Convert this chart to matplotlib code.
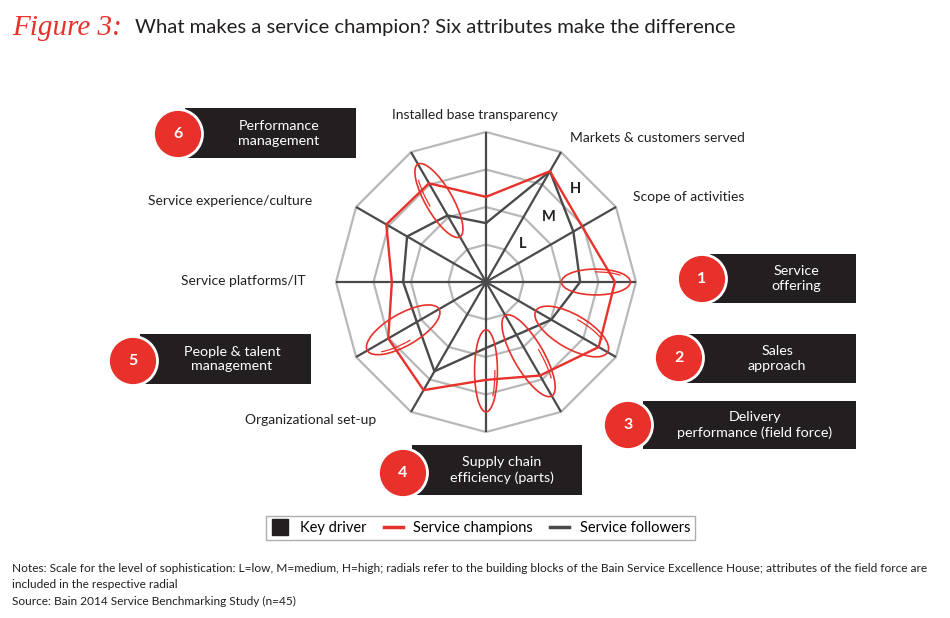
import numpy as np
import matplotlib
matplotlib.use("Agg")
import matplotlib.pyplot as plt
from matplotlib.patches import Ellipse, Arc, Rectangle, Circle
from matplotlib.lines import Line2D

# colours
RED = "#e8312a"
DARK = "#4a4a4c"
RING = "#b8b8b8"
BOX = "#231f20"
FONT = "Lato"

# spokes, clockwise from the top (degrees)
spoke_angles = [90, 60, 30, 0, -30, -60, -90, -120, -150, 180, 150, 120]
spoke_labels = ["Installed base transparency", "Markets & customers served",
                "Scope of activities", "", "", "", "", "Organizational set-up",
                "", "Service platforms/IT", "Service experience/culture", ""]
# level of sophistication, 0 = centre, 4 = outer ring
champions = [2.27, 3.41, 2.96, 3.44, 3.47, 2.88, 2.61, 3.33, 3.01, 2.51, 3.07, 3.04]
followers = [1.57, 3.41, 2.69, 2.51, 2.01, 1.63, 1.76, 2.75, 2.13, 2.21, 2.43, 2.05]
ring_levels = [1, 2, 3, 4]
scale_letters = ["L", "M", "H"]
scale_radius = [1.4, 2.4, 3.43]

# the six key drivers (circled radials)
driver_angles = [0, -30, -60, -90, -150, 120]
driver_numbers = ["1", "2", "3", "4", "5", "6"]
driver_names = ["Service\noffering", "Sales\napproach",
                "Delivery\nperformance (field force)", "Supply chain\nefficiency (parts)",
                "People & talent\nmanagement", "Performance\nmanagement"]
ellipse_radius = [2.93, 2.64, 2.27, 2.37, 2.55, 2.51]
ellipse_long = [1.84, 2.21, 2.48, 2.19, 2.21, 2.24]
ellipse_short = [0.69, 0.90, 0.80, 0.61, 0.85, 0.72]

W, H = 950, 618


def fx(x):
    return x / W


def fy(y):
    return 1 - y / H


fig = plt.figure(figsize=(9.5, 6.18), dpi=100)
fig.patch.set_facecolor("white")

# radar area: centre at (486, 282) px, 37.5 px per level
ax = fig.add_axes([fx(286), fy(482), 400 / W, 400 / H])
lim = 200 / 37.5
ax.set_xlim(-lim, lim)
ax.set_ylim(-lim, lim)
ax.set_aspect("equal")
ax.axis("off")

theta = np.deg2rad(spoke_angles + [spoke_angles[0]])
for level in ring_levels:
    ax.plot(level * np.cos(theta), level * np.sin(theta), color=RING, lw=1.6, zorder=1)
for a in np.deg2rad(spoke_angles):
    ax.plot([0, ring_levels[-1] * np.cos(a)], [0, ring_levels[-1] * np.sin(a)],
            color=DARK, lw=1.6, zorder=2, solid_capstyle="butt")

fol = np.array(followers + [followers[0]])
cha = np.array(champions + [champions[0]])
ax.plot(fol * np.cos(theta), fol * np.sin(theta), color=DARK, lw=1.7, zorder=3)
ax.plot(cha * np.cos(theta), cha * np.sin(theta), color=RED, lw=1.7, zorder=4)

for a, r, w, h in zip(driver_angles, ellipse_radius, ellipse_long, ellipse_short):
    t = np.deg2rad(a)
    c = (r * np.cos(t), r * np.sin(t))
    ax.add_patch(Ellipse(c, w, h, angle=a, fill=False, ec=RED, lw=1.2, zorder=5))
    ax.add_patch(Arc(c, w * 0.95, h * 0.78, angle=a, theta1=15, theta2=95,
                     ec=RED, lw=0.9, zorder=5))

for letter, r in zip(scale_letters, scale_radius):
    t = np.deg2rad(46)
    ax.text(r * np.cos(t), r * np.sin(t), letter, ha="center", va="center",
            fontsize=10.5, fontweight="bold", family=FONT, color="#222222", zorder=6)

# spoke labels (pixel positions of text centres)
label_pos = {"Installed base transparency": (475, 115),
             "Markets & customers served": (657, 138),
             "Scope of activities": (689, 197),
             "Organizational set-up": (311, 420),
             "Service platforms/IT": (243, 281),
             "Service experience/culture": (230, 201)}
for lab in spoke_labels:
    if lab:
        x, y = label_pos[lab]
        fig.text(fx(x), fy(y), lab, ha="center", va="center", fontsize=10,
                 family=FONT, color="#231f20")

# numbered badges: circle centre, box left/right/top/bottom, text centre x
badges = [(702, 279, 710, 856, 254, 303, 796),
          (679, 358, 687, 856, 334, 383, 777),
          (628, 425, 643, 856, 401, 449, 755),
          (403, 473, 412, 582, 445, 495, 502),
          (133, 361, 140, 311, 334, 384, 232),
          (178, 134, 185, 356, 108, 158, 279)]
tr = fig.dpi_scale_trans
for num, name, (cx, cy, x0, x1, y0, y1, tx) in zip(driver_numbers, driver_names, badges):
    fig.patches.append(Rectangle((x0 / 100, (H - y1) / 100), (x1 - x0) / 100, (y1 - y0) / 100,
                                 transform=tr, fc=BOX, ec="none", zorder=1))
    fig.patches.append(Circle((cx / 100, (H - cy) / 100), 0.245, transform=tr,
                              fc=RED, ec="white", lw=2, zorder=2))
    fig.text(fx(cx), fy(cy), num, ha="center", va="center", color="white",
             fontsize=11.5, fontweight="bold", family=FONT, zorder=3)
    fig.text(fx(tx), fy((y0 + y1) / 2), name, ha="center", va="center", color="white",
             fontsize=10.3, family=FONT, linespacing=1.3, zorder=3)

# title
fig.text(fx(12), fy(28), "Figure 3:", ha="left", va="center", color=RED,
         fontsize=21, family="Liberation Serif", style="italic")
fig.text(fx(135), fy(27), "What makes a service champion? Six attributes make the difference",
         ha="left", va="center", fontsize=14.6, family=FONT, color="#231f20")

# legend
handles = [Line2D([], [], marker="s", color=BOX, ls="none", markersize=11),
           Line2D([], [], color=RED, lw=2.5),
           Line2D([], [], color=DARK, lw=2.5)]
leg = fig.legend(handles, ["Key driver", "Service champions", "Service followers"],
                 loc="center", bbox_to_anchor=(fx(480.5), fy(528)), ncol=3,
                 frameon=True, fancybox=False, edgecolor="#9a9a9a", handlelength=1.3,
                 columnspacing=1.2, handletextpad=0.7, borderpad=0.35,
                 prop={"family": FONT, "size": 10.5})
leg.get_frame().set_linewidth(1.0)

# notes
fig.text(fx(12), fy(568),
         "Notes: Scale for the level of sophistication: L=low, M=medium, H=high; radials refer to "
         "the building blocks of the Bain Service Excellence House; attributes of the field force are",
         ha="left", va="center", fontsize=8.6, family=FONT, color="#231f20")
fig.text(fx(12), fy(585), "included in the respective radial",
         ha="left", va="center", fontsize=8.6, family=FONT, color="#231f20")
fig.text(fx(12), fy(601), "Source: Bain 2014 Service Benchmarking Study (n=45)",
         ha="left", va="center", fontsize=8.6, family=FONT, color="#231f20")

fig.savefig("out.png", dpi=100)
